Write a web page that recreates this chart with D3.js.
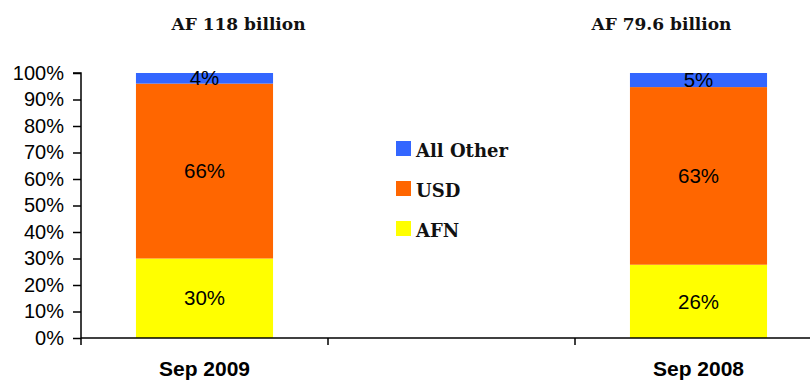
<!DOCTYPE html>
<html>
<head>
<meta charset="utf-8">
<script src="https://cdn.jsdelivr.net/npm/d3@7"></script>
<style>
  html, body { margin: 0; padding: 0; background: #fff; }
  svg { display: block; }
</style>
</head>
<body>
<div id="chart"></div>
<script>
// Currency composition of deposits, by period
const categories = ["Sep 2009", "", "Sep 2008"];
const totals = ["AF 118 billion", "", "AF 79.6 billion"];
const totalOffsets = [34, 0, -37];
const seriesNames = ["AFN", "USD", "All Other"];
const afnValues = [30, null, 26];
const usdValues = [66, null, 63];
const otherValues = [4, null, 5];
const yTicks = [0, 0.1, 0.2, 0.3, 0.4, 0.5, 0.6, 0.7, 0.8, 0.9, 1.0];
const colors = { "AFN": "#FFFF00", "USD": "#FF6600", "All Other": "#3366FF" };

const W = 810, H = 381;
const margin = { left: 81, top: 73, bottom: 43 };
const plotBottom = H - margin.bottom;
const sans = "Liberation Sans, Arial, sans-serif";
const serif = "DejaVu Serif, Liberation Serif, serif";

const svg = d3.select("#chart").append("svg")
  .attr("width", W).attr("height", H);

const rows = categories.map((c, i) => ({
  cat: c,
  "AFN": afnValues[i] || 0,
  "USD": usdValues[i] || 0,
  "All Other": otherValues[i] || 0
}));

// 100% stacked: each bar's segments are shares of its own total
const stacked = d3.stack()
  .keys(seriesNames)
  .offset(d3.stackOffsetExpand)(rows);

const x = d3.scaleBand().domain(categories).range([margin.left, 822]);
const y = d3.scaleLinear().domain([0, 1]).range([plotBottom, margin.top]);
const barW = x.bandwidth() * 0.555;

// stacked bars
const layers = svg.append("g").selectAll("g").data(stacked).join("g")
  .attr("fill", d => colors[d.key]);
layers.selectAll("rect")
  .data(d => d.filter(p => p.data.cat !== "" && !isNaN(p[1])))
  .join("rect")
  .attr("x", d => x(d.data.cat) + (x.bandwidth() - barW) / 2)
  .attr("width", barW)
  .attr("y", d => y(d[1]))
  .attr("height", d => y(d[0]) - y(d[1]));

// segment value labels
const valueOf = { "AFN": afnValues, "USD": usdValues, "All Other": otherValues };
stacked.forEach(layer => {
  layer.forEach((p, i) => {
    if (categories[i] === "" || isNaN(p[1])) return;
    svg.append("text")
      .attr("x", x(categories[i]) + x.bandwidth() / 2)
      .attr("y", (y(p[0]) + y(p[1])) / 2)
      .attr("dy", "0.35em")
      .attr("text-anchor", "middle")
      .attr("font-family", sans)
      .attr("font-size", 20.5)
      .attr("fill", "#000")
      .text(valueOf[layer.key][i] + "%");
  });
});

// y axis
const yAxis = svg.append("g")
  .attr("transform", `translate(${margin.left},0)`)
  .call(d3.axisLeft(y).tickValues(yTicks).tickFormat(d3.format(".0%"))
    .tickSize(8).tickPadding(9));
yAxis.select(".domain").attr("stroke", "#000").attr("stroke-width", 1.5)
  .attr("d", `M-8,${margin.top}H0V${plotBottom}`);
yAxis.selectAll(".tick line").attr("stroke", "#000").attr("stroke-width", 1.5);
yAxis.selectAll(".tick text")
  .attr("font-family", sans)
  .attr("font-size", 20).attr("fill", "#000");

// x axis
const xAxis = svg.append("g")
  .attr("transform", `translate(0,${plotBottom})`);
xAxis.append("line")
  .attr("x1", margin.left).attr("x2", W)
  .attr("stroke", "#000").attr("stroke-width", 1.5);
xAxis.selectAll("line.tk")
  .data(categories.map(c => x(c)))
  .join("line").attr("class", "tk")
  .attr("x1", d => d).attr("x2", d => d)
  .attr("y1", 0).attr("y2", 7)
  .attr("stroke", "#000").attr("stroke-width", 1.5);
xAxis.selectAll("text")
  .data(categories.filter(c => c !== ""))
  .join("text")
  .attr("x", d => x(d) + x.bandwidth() / 2)
  .attr("y", 37.5)
  .attr("text-anchor", "middle")
  .attr("font-family", sans)
  .attr("font-weight", "bold")
  .attr("font-size", 21)
  .attr("fill", "#000")
  .text(d => d);

// totals above each bar
svg.selectAll("text.total")
  .data(categories.map((c, i) => ({ c, t: totals[i], o: totalOffsets[i] })).filter(d => d.t))
  .join("text").attr("class", "total")
  .attr("x", d => x(d.c) + x.bandwidth() / 2 + d.o)
  .attr("y", 30)
  .attr("text-anchor", "middle")
  .attr("font-family", serif)
  .attr("font-weight", "bold")
  .attr("font-size", 17)
  .attr("fill", "#111")
  .text(d => d.t);

// legend
const legend = svg.append("g").attr("transform", "translate(396,141)");
const legendOrder = ["All Other", "USD", "AFN"];
legendOrder.forEach((k, i) => {
  const g = legend.append("g").attr("transform", `translate(0,${i * 40})`);
  g.append("rect").attr("width", 15).attr("height", 15).attr("fill", colors[k]);
  g.append("text")
    .attr("x", 20).attr("y", 16)
    .attr("font-family", serif)
    .attr("font-weight", "bold")
    .attr("font-size", 18)
    .attr("fill", "#111")
    .text(k);
});
</script>
</body>
</html>
